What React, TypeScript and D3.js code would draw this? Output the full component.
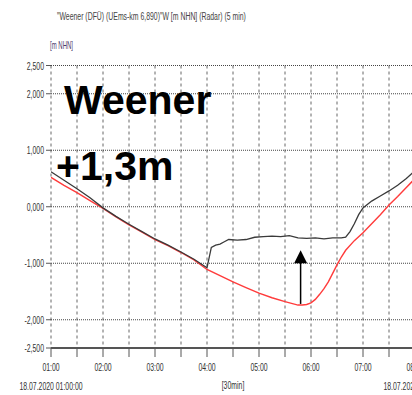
import React from "react";
import * as d3 from "d3";

// Water level at Weener, 18.07.2020 (m NHN)
const measuredTimes = ["01:00","01:15","01:30","01:45","02:00","02:15","02:30","02:45","03:00","03:15","03:30","03:45","04:00","04:05","04:10","04:15","04:20","04:25","04:35","04:45","04:55","05:05","05:15","05:25","05:35","05:45","05:55","06:05","06:15","06:25","06:35","06:40","06:45","06:50","06:55","07:00","07:10","07:20","07:30","07:40","07:50","08:00"];
const measuredValues = [0.62,0.47,0.32,0.16,-0.02,-0.17,-0.31,-0.44,-0.57,-0.68,-0.80,-0.93,-1.08,-0.72,-0.68,-0.66,-0.62,-0.58,-0.59,-0.58,-0.54,-0.53,-0.52,-0.53,-0.51,-0.55,-0.56,-0.55,-0.57,-0.55,-0.55,-0.54,-0.44,-0.30,-0.14,-0.02,0.10,0.19,0.28,0.38,0.50,0.64];

const forecastTimes = ["01:00","01:15","01:30","01:45","02:00","02:15","02:30","02:45","03:00","03:15","03:30","03:45","04:00","04:15","04:30","04:45","05:00","05:15","05:30","05:45","05:50","05:55","06:00","06:05","06:10","06:15","06:20","06:25","06:30","06:35","06:40","06:50","07:00","07:10","07:20","07:30","07:40","07:50","08:00"];
const forecastValues = [0.52,0.38,0.25,0.11,-0.03,-0.18,-0.32,-0.45,-0.58,-0.69,-0.81,-0.94,-1.11,-1.22,-1.33,-1.43,-1.53,-1.61,-1.68,-1.74,-1.74,-1.73,-1.70,-1.64,-1.55,-1.45,-1.33,-1.18,-1.03,-0.89,-0.77,-0.60,-0.46,-0.30,-0.14,0.03,0.18,0.34,0.50];

const yTickValues = [2.5, 2, 1, 0, -1, -2, -2.5];
const yGridValues = [2.5, 2, 1, 0, -1, -2];
const hourLabels = ["01:00","02:00","03:00","04:00","05:00","06:00","07:00","08:00"];

const arrowTime = "05:48";
const arrowFrom = -1.72;
const arrowTo = -0.77;

const titleText = "\"Weener (DFÜ) (UEms-km 6,890)\"W [m NHN] (Radar) (5 min)";
const unitText = "[m NHN]";
const stationText = "Weener";
const riseText = "+1,3m";
const startStamp = "18.07.2020 01:00:00";
const endStamp = "18.07.2020 08:00:00";
const intervalText = "[30min]";

const W = 412;
const H = 395;

const toDate = (hm: string) => {
  const [h, m] = hm.split(":").map(Number);
  return new Date(2020, 6, 18, h, m);
};

const fmtY = (v: number) => {
  const s = Math.abs(v).toFixed(3).replace(".", ",");
  return (v < 0 ? "-" : "") + s;
};

const NARROW = 0.6;
const labelFont = "Liberation Sans, Arial, sans-serif";

function Narrow({ x, y, anchor = "start", size = 11, fill = "#333", children }: any) {
  return (
    <text
      transform={`translate(${x},${y}) scale(${NARROW},1)`}
      textAnchor={anchor}
      fontSize={size}
      fontFamily={labelFont}
      fill={fill}
    >
      {children}
    </text>
  );
}

export default function App() {
  const x = d3.scaleTime().domain([toDate("01:00"), toDate("08:00")]).range([51, 415]);
  const y = d3.scaleLinear().domain([-2.5, 2.5]).range([348, 65.5]);

  const gridTimes = d3.timeMinute.every(30)!.range(toDate("01:00"), new Date(toDate("08:00").getTime() + 1));

  const line = d3
    .line<[Date, number]>()
    .x((d) => x(d[0]))
    .y((d) => y(d[1]));

  const measured: [Date, number][] = measuredTimes.map((t, i) => [toDate(t), measuredValues[i]]);
  const forecast: [Date, number][] = forecastTimes.map((t, i) => [toDate(t), forecastValues[i]]);

  const ax = x(toDate(arrowTime));
  const aBottom = y(arrowFrom);
  const aTip = y(arrowTo);
  const headH = 13;
  const headW = 6.5;

  return (
    <svg
      width={W}
      height={H}
      style={{ position: "absolute", left: 0, top: 0, background: "#fff" }}
    >
      <rect x={0} y={0} width={W} height={H} fill="#fff" />
      <defs>
        <clipPath id="plot">
          <rect x={51} y={60} width={W - 51} height={292} />
        </clipPath>
      </defs>

      {/* header */}
      <Narrow x={57} y={20} size={11.5} fill="#444">{titleText}</Narrow>
      <Narrow x={50} y={49} size={10} fill="#4a3b6b">{unitText}</Narrow>

      {/* vertical grid every 30 minutes */}
      {gridTimes.map((t, i) => (
        <line
          key={"vg" + i}
          x1={x(t)}
          x2={x(t)}
          y1={y(2.5)}
          y2={y(-2.5)}
          stroke="#666"
          strokeWidth={1}
          strokeDasharray="3,3"
        />
      ))}

      {/* horizontal grid */}
      {yGridValues.map((v) => (
        <line
          key={"hg" + v}
          x1={51}
          x2={W}
          y1={y(v)}
          y2={y(v)}
          stroke="#444"
          strokeWidth={1}
          strokeDasharray="1,1"
        />
      ))}

      {/* y axis ticks and labels */}
      {yTickValues.map((v) => (
        <g key={"yt" + v}>
          <line x1={46} x2={51} y1={y(v)} y2={y(v)} stroke="#555" strokeWidth={1} />
          <Narrow x={44} y={y(v) + 4} anchor="end" size={11.5}>{fmtY(v)}</Narrow>
        </g>
      ))}

      {/* x axis */}
      <line x1={51} x2={W} y1={y(-2.5)} y2={y(-2.5)} stroke="#555" strokeWidth={2} />
      {gridTimes.map((t, i) => (
        <line
          key={"xt" + i}
          x1={x(t)}
          x2={x(t)}
          y1={y(-2.5)}
          y2={y(-2.5) + 9}
          stroke="#555"
          strokeWidth={1}
        />
      ))}
      {hourLabels.map((h) => (
        <Narrow key={"xl" + h} x={x(toDate(h))} y={371} anchor="middle" size={11.5}>
          {h}
        </Narrow>
      ))}
      <Narrow x={x(toDate("01:00"))} y={390} anchor="middle" size={11.5}>{startStamp}</Narrow>
      <Narrow x={x(toDate("08:00"))} y={390} anchor="middle" size={11.5}>{endStamp}</Narrow>
      <Narrow x={233} y={389} anchor="middle" size={11.5}>{intervalText}</Narrow>

      {/* series */}
      <g clipPath="url(#plot)">
        <path d={line(forecast) || ""} fill="none" stroke="#ff3b3b" strokeWidth={1.4} />
        <path d={line(measured) || ""} fill="none" stroke="#3a3a3a" strokeWidth={1.3} />
      </g>

      {/* rise arrow */}
      <line x1={ax} x2={ax} y1={aBottom} y2={aTip + headH - 1} stroke="#000" strokeWidth={1.5} />
      <path
        d={`M${ax},${aTip} L${ax - headW},${aTip + headH} L${ax + headW},${aTip + headH} Z`}
        fill="#000"
      />

      {/* annotation */}
      <text x={64} y={114} fontSize={41} fontWeight="bold" fontFamily="Liberation Sans, Arial, sans-serif" fill="#000">
        {stationText}
      </text>
      <text x={56} y={180} fontSize={41} fontWeight="bold" fontFamily="Liberation Sans, Arial, sans-serif" fill="#000">
        {riseText}
      </text>
    </svg>
  );
}
